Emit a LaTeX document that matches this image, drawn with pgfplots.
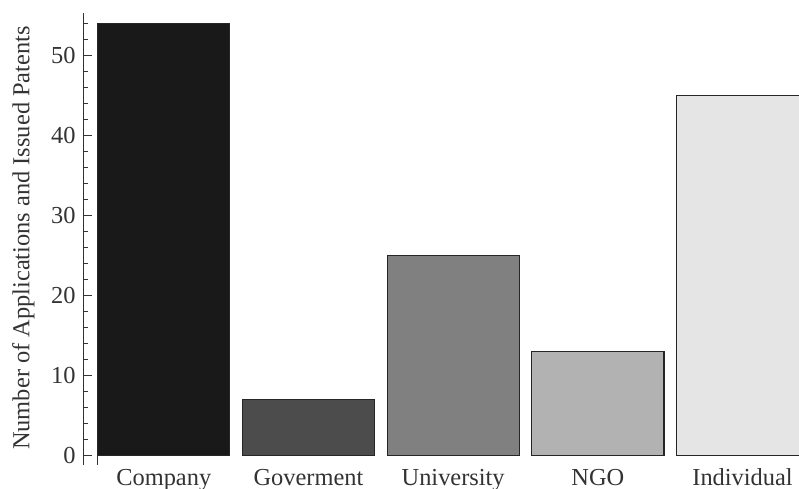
\documentclass[border=0pt]{standalone}
\usepackage{fontspec}
\setmainfont{Liberation Serif}
\usepackage{pgfplots}
\pgfplotsset{compat=1.18}

\definecolor{axisgray}{gray}{0.2}
\definecolor{edgegray}{gray}{0.15}

\begin{document}
\begin{tikzpicture}
\begin{axis}[
	at={(0,0)}, anchor=south west,
	scale only axis,
	width=715.7bp, height=452.3bp,
	xmin=-0.556, xmax=4.39,
	ymin=-1.2, ymax=55.3,
	axis lines*=left,
	x axis line style={draw=none},
	xtick style={draw=none},
	y axis line style={axisgray, line width=1bp},
	ytick={0,10,...,50},
	minor ytick={2,4,...,54},
	ytick style={axisgray, line width=0.8bp},
	major tick length=8.4bp,
	minor tick length=4.7bp,
	xtick={0,1,2,3,4},
	xticklabels={Company,Goverment,University,NGO,Individual},
	tick label style={font=\fontsize{24.5}{28}\selectfont, text=axisgray},
	yticklabel style={inner sep=7.5bp},
	xticklabel style={anchor=base, yshift=-11.5bp},
	/pgf/number format/assume math mode=true,
	ybar,
	bar width=0.913,
]
\addplot[bar shift=0pt, fill=black!90, draw=edgegray, line width=1.2bp] coordinates {(0,54)};
\addplot[bar shift=0pt, fill=black!70, draw=edgegray, line width=1.2bp] coordinates {(1,7)};
\addplot[bar shift=0pt, fill=black!50, draw=edgegray, line width=1.2bp] coordinates {(2,25)};
\addplot[bar shift=0pt, fill=black!30, draw=edgegray, line width=1.2bp] coordinates {(3,13)};
\addplot[bar shift=0pt, fill=black!10, draw=edgegray, line width=1.2bp] coordinates {(4,45)};
\draw[axisgray, line width=1bp] (axis cs:-0.4565,0) -- (axis cs:-0.4565,-1.2);
\end{axis}
\node[rotate=90, anchor=base, text=axisgray, font=\fontsize{24.5}{28}\selectfont] at (-54bp,227.3bp) {Number of Applications and Issued Patents};
\pgfresetboundingbox
\useasboundingbox (-83.3bp,-23.7bp) rectangle (715.7bp,465.3bp);
\end{tikzpicture}
\end{document}
